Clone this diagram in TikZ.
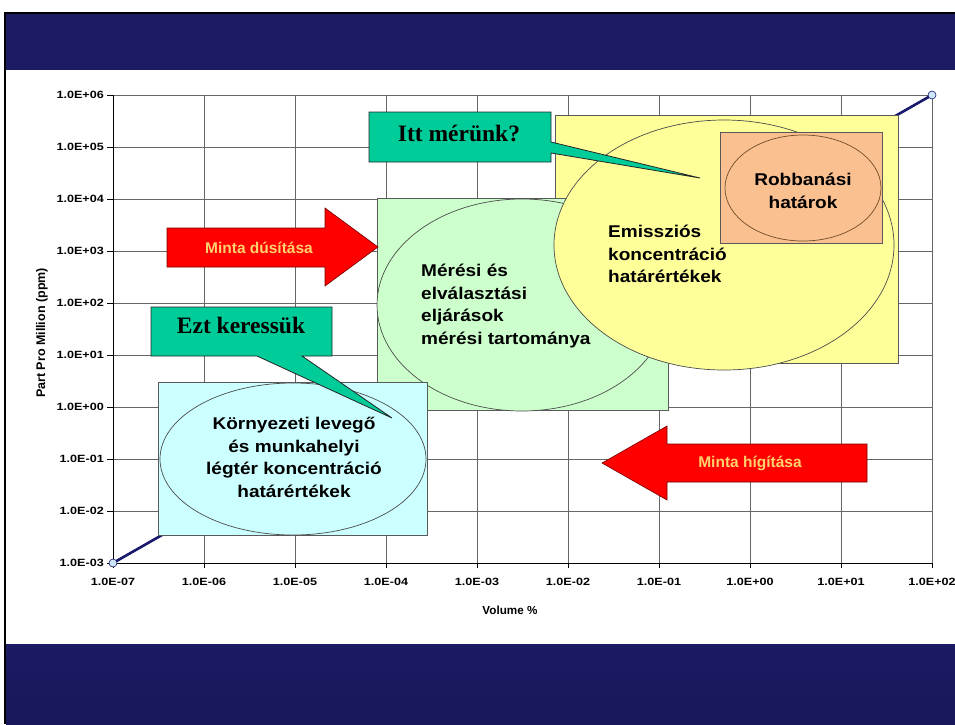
\documentclass[tikz,border=0pt]{standalone}
\usepackage{fontspec}
\setmainfont{Liberation Sans}
\newfontfamily\zonefont{Liberation Sans}[FakeStretch=1.12]
\newfontfamily\tickfont{Liberation Sans}[FakeStretch=1.2]
\newfontfamily\calloutfont{Liberation Serif}
\definecolor{slideblue}{RGB}{27,27,100}
\definecolor{slidebluelow}{RGB}{23,23,92}
\definecolor{dataline}{RGB}{25,25,110}
\definecolor{markerfill}{RGB}{205,230,250}
\definecolor{zoneyellow}{RGB}{255,255,153}
\definecolor{zonegreen}{RGB}{204,255,204}
\definecolor{zonecyan}{RGB}{204,255,255}
\definecolor{zoneorange}{RGB}{250,192,144}
\definecolor{callteal}{RGB}{0,204,153}
\definecolor{arrowtxt}{RGB}{255,210,110}
\tikzset{
	gridline/.style={draw=black!60, line width=0.8pt},
	zonebox/.style={draw=black!65, line width=0.6pt},
	zoneedge/.style={draw=black!70, line width=0.7pt},
	zonetext/.style={font=\zonefont\bfseries\fontsize{17}{22.5}\selectfont, inner sep=0pt},
	ticklabel/.style={font=\tickfont\bfseries\fontsize{10.5}{12}\selectfont, inner sep=1pt},
	calloutshape/.style={fill=callteal, draw=black!85, line width=0.8pt},
	callouttext/.style={font=\calloutfont\bfseries\fontsize{23.5}{26}\selectfont, inner sep=0pt},
	bigarrow/.style={fill=red, draw=red!45!black, line width=0.6pt},
	arrowlabel/.style={text=arrowtxt, font=\bfseries\fontsize{15.5}{18}\selectfont, inner sep=0pt}
}

\begin{document}
\begin{tikzpicture}[x=1pt, y=-1pt]
		%%%%% SLIDE %%%%%
		\fill[white] (0, 0) rectangle (955, 724);
		\useasboundingbox (0, 0) rectangle (955, 724);
		
		\fill[black] (4, 12) rectangle (955, 14);
		\fill[slideblue] (6, 14) rectangle (955, 70);
		\shade[top color=slideblue, bottom color=slidebluelow] (6, 644) rectangle (955, 724);
		\fill[black] (4, 12) rectangle (6, 724);
		
		%%%%% GRID %%%%%
		\foreach \i in {0,...,9} {
			\draw[gridline] (113+91*\i, 95) -- (113+91*\i, 563);
			\draw[gridline] (113, 95+52*\i) -- (932, 95+52*\i);
			\draw[line width=0.8pt] (107, 95+52*\i) -- (113, 95+52*\i);
			\draw[line width=0.8pt] (113+91*\i, 563) -- (113+91*\i, 568);
		}
		\draw[line width=0.9pt] (113, 95) -- (113, 563) -- (932, 563);
		
		\foreach \lab [count=\i from 0] in {1.0E-07,1.0E-06,1.0E-05,1.0E-04,1.0E-03,1.0E-02,1.0E-01,1.0E+00,1.0E+01,1.0E+02}
			\node[ticklabel] (xtick\i) at (113+91*\i, 582) {\lab};
		\foreach \lab [count=\i from 0] in {1.0E+06,1.0E+05,1.0E+04,1.0E+03,1.0E+02,1.0E+01,1.0E+00,1.0E-01,1.0E-02,1.0E-03}
			\node[ticklabel, anchor=east] (ytick\i) at (105, 95+52*\i) {\lab};
		
		\node[font=\bfseries\fontsize{12.5}{14}\selectfont, rotate=90] (ylabel) at (42, 333) {Part Pro Million (ppm)};
		\node[font=\bfseries\fontsize{11.7}{14}\selectfont] (xlabel) at (510, 610) {Volume \%};
		
		%%%%% DATA LINE %%%%%
		\coordinate (lowend) at (113, 563);
		\coordinate (highend) at (932, 95);
		\draw[dataline, line width=2.6pt] (lowend) -- (highend);
		\draw[fill=markerfill, draw=dataline, line width=0.6pt] (lowend) circle (4pt);
		\draw[fill=markerfill, draw=dataline, line width=0.6pt] (highend) circle (4pt);
		
		%%%%% ZONES %%%%%
		\draw[zonebox, fill=zoneyellow] (555, 115) rectangle (898, 363);
		\draw[zonebox, fill=zonegreen] (377, 198) rectangle (668, 410);
		\draw[zoneedge, fill=zonegreen] (522, 305) ellipse [x radius=145pt, y radius=106pt];
		\draw[zonebox, fill=zonecyan] (158, 382) rectangle (427, 535);
		\draw[zoneedge, fill=zonecyan] (293, 459) ellipse [x radius=133pt, y radius=76pt];
		\draw[zoneedge, fill=zoneyellow] (724, 245) ellipse [x radius=170pt, y radius=125pt];
		\draw[zonebox, fill=zoneorange] (720, 132) rectangle (882, 243);
		\draw[zoneedge, draw=brown!60!black, fill=zoneorange] (803, 188) ellipse [x radius=78pt, y radius=53pt];
		
		\node[zonetext, align=center, anchor=north] (ambient) at (294, 417) {Környezeti levegő\\és munkahelyi\\légtér koncentráció\\határértékek};
		\node[zonetext, align=left, anchor=north west] (method) at (421, 264) {Mérési és\\elválasztási\\eljárások\\mérési tartománya};
		\node[zonetext, align=left, anchor=north west] (emission) at (608, 225) {Emissziós\\koncentráció\\határértékek};
		\node[zonetext, align=center, anchor=north] (explosion) at (803, 173) {Robbanási\\határok};
		
		%%%%% ARROWS %%%%%
		\draw[bigarrow] (167, 228) -- (325, 228) -- (325, 208) -- (378, 247) -- (325, 286) -- (325, 267) -- (167, 267) -- cycle;
		\node[arrowlabel, anchor=base] (enrich) at (259, 253) {Minta dúsítása};
		
		\draw[bigarrow] (602, 463) -- (667, 426) -- (667, 444) -- (867, 444) -- (867, 482) -- (667, 482) -- (667, 500) -- cycle;
		\node[arrowlabel, anchor=base] (dilute) at (750, 467) {Minta hígítása};
		
		%%%%% CALLOUTS %%%%%
		\draw[calloutshape] (369, 112) -- (551, 112) -- (551, 142) -- (700, 178) -- (551, 153) -- (551, 162) -- (369, 162) -- cycle;
		\node[callouttext, anchor=base] (measure) at (459, 141) {Itt mérünk?};
		
		\draw[calloutshape] (151, 307) -- (332, 307) -- (332, 356) -- (302, 356) -- (392, 418) -- (257, 356) -- (151, 356) -- cycle;
		\node[callouttext, anchor=base] (search) at (241, 333) {Ezt keressük};
\end{tikzpicture}
\end{document}
